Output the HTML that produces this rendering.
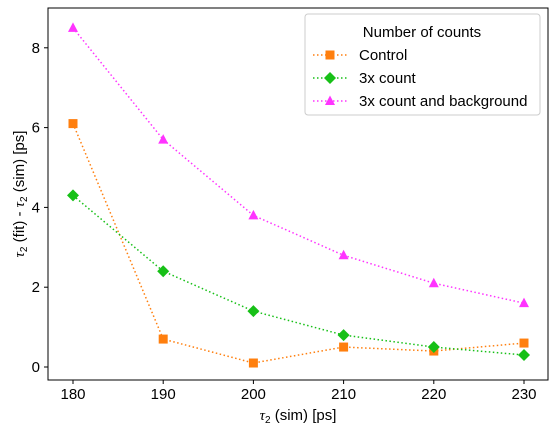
<!DOCTYPE html>
<html><head><meta charset="utf-8"><style>
body{margin:0;background:#fff}
text{font-family:"Liberation Sans","DejaVu Sans",sans-serif;font-size:15px;fill:#000}
</style></head><body>
<svg id="c" width="556" height="436" xmlns="http://www.w3.org/2000/svg">
<rect x="48" y="8" width="500" height="372" fill="none" stroke="#000" stroke-width="1"/>
<g id="ax"></g><g id="series"></g>
<text x="298" y="420" text-anchor="middle"><tspan font-family="Liberation Serif" font-style="italic">τ</tspan><tspan font-size="10" dy="3">2</tspan><tspan dy="-3"> (sim) [ps]</tspan></text>
<text transform="translate(24,194) rotate(-90)" text-anchor="middle"><tspan font-family="Liberation Serif" font-style="italic">τ</tspan><tspan font-size="10" dy="3">2</tspan><tspan dy="-3"> (fit) - </tspan><tspan font-family="Liberation Serif" font-style="italic">τ</tspan><tspan font-size="10" dy="3">2</tspan><tspan dy="-3"> (sim) [ps]</tspan></text>
<g>
<rect x="305" y="14" width="235" height="101" rx="3" fill="#fff" stroke="#ccc"/>
<text x="422" y="37" text-anchor="middle">Number of counts</text>
<g id="leg"></g>
</g>
</svg>
<script>
const categories=[180,190,200,210,220,230];
const controlVals=[6.1,0.7,0.1,0.5,0.4,0.6];
const count3Vals=[4.3,2.4,1.4,0.8,0.5,0.3];
const bgVals=[8.5,5.7,3.8,2.8,2.1,1.6];
const yTicks=[0,2,4,6,8];
const seriesNames=["Control","3x count","3x count and background"];
const NS="http://www.w3.org/2000/svg";
const X=v=>73+(v-180)*9.02;
const Y=v=>367-v*39.9;
function mk(t,a,p){const e=document.createElementNS(NS,t);for(const k in a)e.setAttribute(k,a[k]);p.appendChild(e);return e;}
const ax=document.getElementById('ax');
categories.forEach(c=>{mk('line',{x1:X(c),x2:X(c),y1:380,y2:384,stroke:'#000'},ax);
const t=mk('text',{x:X(c),y:399,'text-anchor':'middle'},ax);t.textContent=c;

});
yTicks.forEach(v=>{mk('line',{x1:44,x2:48,y1:Y(v),y2:Y(v),stroke:'#000'},ax);
const t=mk('text',{x:40,y:Y(v)+5,'text-anchor':'end'},ax);t.textContent=v;

});
function marker(shape,x,y,col,p){
 if(shape==='s')return mk('rect',{x:x-4.5,y:y-4.5,width:9,height:9,fill:col},p);
 if(shape==='d')return mk('polygon',{points:`${x},${y-6} ${x+6},${y} ${x},${y+6} ${x-6},${y}`,fill:col},p);
 return mk('polygon',{points:`${x},${y-5.5} ${x+5},${y+4} ${x-5},${y+4}`,fill:col},p);}
const sers=[[controlVals,'#ff7f0e','s','series-control'],[count3Vals,'#17c017','d','series-3x-count'],[bgVals,'#ff33ff','t','series-3x-count-background']];
const sg=document.getElementById('series'),lg=document.getElementById('leg');
sers.forEach(([vals,col,sh,name],i)=>{
 const g=mk('g',{},sg);
 
 
 mk('polyline',{points:vals.map((v,j)=>X(categories[j])+','+Y(v)).join(' '),fill:'none',stroke:col,'stroke-width':1.5,'stroke-dasharray':'1.5,2.5'},g);
 vals.forEach((v,j)=>{const m=marker(sh,X(categories[j]),Y(v),col,g);
 
 });
 const ly=55+i*23;
 const le=mk('g',{},lg);
 
 
 mk('line',{x1:313,x2:347,y1:ly,y2:ly,stroke:col,'stroke-width':1.5,'stroke-dasharray':'1.5,2.5'},le);
 marker(sh,330,ly,col,le);
 const t=mk('text',{x:359,y:ly+5},le);t.textContent=seriesNames[i];
});
</script>
</body></html>
